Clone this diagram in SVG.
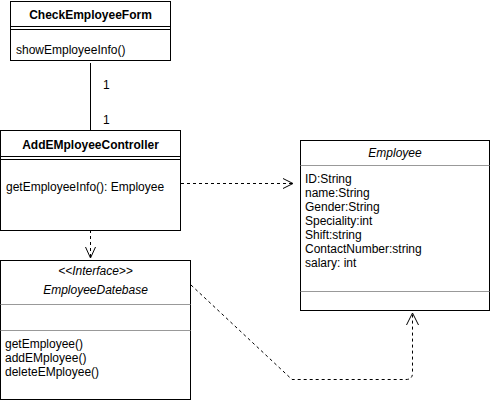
<svg xmlns="http://www.w3.org/2000/svg" width="491" height="401" viewBox="0 0 491 401">
<style>
.box{fill:#fff;stroke:#000;stroke-width:1}
.sep{stroke:#000;stroke-width:1}
.gsep{stroke:#999;stroke-width:1}
text{font-family:"Liberation Sans",Arial,sans-serif;font-size:12px;fill:#000}
.b{font-weight:bold}
.i{font-style:italic}
.c{text-anchor:middle}
.dash{fill:none;stroke:#000;stroke-width:1;stroke-dasharray:3,3}
.ah{fill:none;stroke:#000;stroke-width:1}
</style>
<rect width="491" height="401" fill="#fff"/>
<g id="connectors">
<line x1="90.5" y1="63" x2="90.5" y2="130" stroke="#000" stroke-width="1"/>
<text x="103" y="89">1</text>
<text x="103" y="124">1</text>
<line class="dash" x1="181" y1="183.5" x2="292" y2="183.5"/>
<path class="ah" d="M283,178.5 L293,183.5 L283,188.5"/>
<line class="dash" x1="90.5" y1="230" x2="90.5" y2="257"/>
<path class="ah" d="M85.5,247 L90.5,258 L95.5,247"/>
<path class="dash" d="M191,285 L292,379.5 L406,379.5 Q412.5,379.5 412.5,373 L412.5,314"/>
<path class="ah" d="M406.5,325 L412.5,313 L418.5,325"/>
</g>
<g id="CheckEmployeeForm">
<rect class="box" x="10.5" y="1.5" width="160" height="59"/>
<line class="sep" x1="10.5" y1="26.5" x2="170.5" y2="26.5"/>
<line class="sep" x1="10.5" y1="29.5" x2="170.5" y2="29.5"/>
<text class="b c" x="90.5" y="19">CheckEmployeeForm</text>
<text x="16" y="54">showEmployeeInfo()</text>
</g>
<g id="AddEMployeeController">
<rect class="box" x="0.5" y="130.5" width="180" height="100"/>
<line class="sep" x1="0.5" y1="156.5" x2="180.5" y2="156.5"/>
<line class="sep" x1="0.5" y1="159.5" x2="180.5" y2="159.5"/>
<text class="b c" x="90.5" y="149">AddEMployeeController</text>
<text x="6" y="191">getEmployeeInfo(): Employee</text>
</g>
<g id="EmployeeDatebase">
<rect class="box" x="0.5" y="260.5" width="190" height="139"/>
<line class="gsep" x1="0.5" y1="304.5" x2="190.5" y2="304.5"/>
<line class="gsep" x1="0.5" y1="330.5" x2="190.5" y2="330.5"/>
<text class="i c" x="95.5" y="275">&lt;&lt;Interface&gt;&gt;</text>
<text class="i c" x="95.5" y="294">EmployeeDatebase</text>
<text x="5" y="348">getEmployee()</text>
<text x="5" y="362">addEMployee()</text>
<text x="5" y="376">deleteEMployee()</text>
</g>
<g id="Employee">
<rect class="box" x="300.5" y="140.5" width="189" height="170"/>
<line class="gsep" x1="300.5" y1="165.5" x2="489.5" y2="165.5"/>
<line class="gsep" x1="300.5" y1="291.5" x2="489.5" y2="291.5"/>
<text class="i c" x="395" y="157">Employee</text>
<text x="305" y="183">ID:String</text>
<text x="305" y="197">name:String</text>
<text x="305" y="211">Gender:String</text>
<text x="305" y="225">Speciality:int</text>
<text x="305" y="239">Shift:string</text>
<text x="305" y="253">ContactNumber:string</text>
<text x="305" y="267">salary: int</text>
</g>
</svg>
